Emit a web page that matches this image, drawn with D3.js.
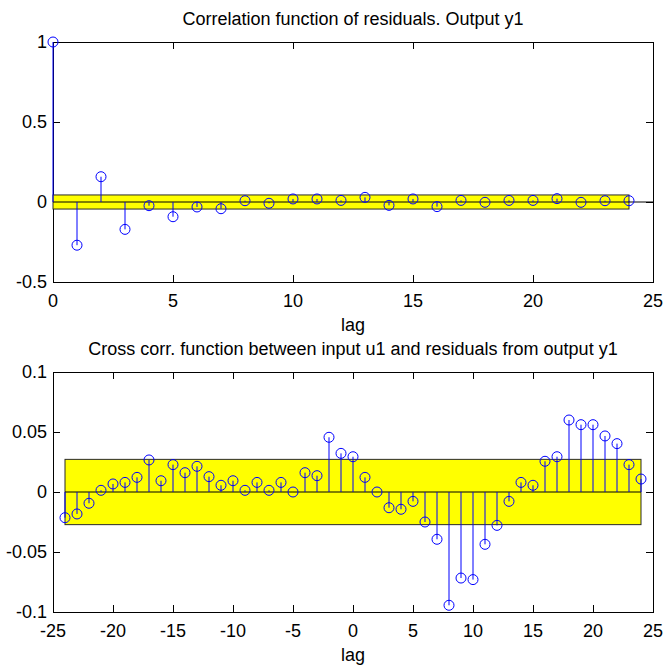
<!DOCTYPE html>
<html>
<head>
<meta charset="utf-8">
<script src="https://cdn.jsdelivr.net/npm/d3@7"></script>
<style>
  html, body { margin: 0; padding: 0; background: #ffffff; }
  svg { display: block; }
  text { font-family: "Liberation Sans", Arial, Helvetica, sans-serif; fill: #000; }
</style>
</head>
<body>
<svg id="chart" width="665" height="671"></svg>
<script>
// Autocorrelation of residuals, output y1 (lags 0..24)
const acfLags = [0, 1, 2, 3, 4, 5, 6, 7, 8, 9, 10, 11, 12, 13, 14, 15, 16, 17, 18, 19, 20, 21, 22, 23, 24];
const acfValues = [1.0, -0.27, 0.158, -0.171, -0.023, -0.092, -0.031, -0.042, 0.008, -0.008,
                   0.019, 0.019, 0.010, 0.029, -0.021, 0.019, -0.029, 0.010, -0.002, 0.010,
                   0.010, 0.021, -0.002, 0.008, 0.008];
const acfConfidence = 0.044;
const acfXTicks = [0, 5, 10, 15, 20, 25];
const acfXTickLabels = ["0", "5", "10", "15", "20", "25"];
const acfYTicks = [-0.5, 0, 0.5, 1];
const acfYTickLabels = ["-0.5", "0", "0.5", "1"];

// Cross correlation between input u1 and residuals of y1 (lags -24..24)
const ccfLags = [-24, -23, -22, -21, -20, -19, -18, -17, -16, -15, -14, -13, -12, -11, -10, -9, -8, -7, -6, -5, -4, -3, -2, -1,
                 0, 1, 2, 3, 4, 5, 6, 7, 8, 9, 10, 11, 12, 13, 14, 15, 16, 17, 18, 19, 20, 21, 22, 23, 24];
const ccfValues = [-0.0214, -0.0183, -0.0094, 0.0014, 0.0067, 0.0080, 0.0122, 0.0267, 0.0094, 0.0228,
                   0.0161, 0.0214, 0.0128, 0.0056, 0.0094, 0.0014, 0.0080, 0.0014, 0.0080, 0.0000,
                   0.0161, 0.0136, 0.0456, 0.0322, 0.0294, 0.0122, 0.0000, -0.0131, -0.0144, -0.0078,
                   -0.0250, -0.0394, -0.0944, -0.0717, -0.0730, -0.0436, -0.0278, -0.0078, 0.0080, 0.0056,
                   0.0256, 0.0294, 0.0600, 0.0561, 0.0561, 0.0467, 0.0403, 0.0228, 0.0108];
const ccfConfidence = 0.0272;
const ccfXTicks = [-25, -20, -15, -10, -5, 0, 5, 10, 15, 20, 25];
const ccfXTickLabels = ["-25", "-20", "-15", "-10", "-5", "0", "5", "10", "15", "20", "25"];
const ccfYTicks = [-0.1, -0.05, 0, 0.05, 0.1];
const ccfYTickLabels = ["-0.1", "-0.05", "0", "0.05", "0.1"];

const svg = d3.select("#chart");
const FONT = 18;
const TICK = 7;
const STEM = "#0000ff";

function panel(opts) {
  const { left, top, width, height, xDomain, yDomain, lags, values, conf, bandFrom, bandTo,
          zeroFrom, zeroTo, xTicks, xLabels, yTicks, yLabels, title } = opts;
  const x = d3.scaleLinear().domain(xDomain).range([left, left + width]);
  const y = d3.scaleLinear().domain(yDomain).range([top + height, top]);
  const g = svg.append("g");

  // axes box
  g.append("rect")
    .attr("x", left).attr("y", top).attr("width", width).attr("height", height)
    .attr("fill", "none").attr("stroke", "#000").attr("stroke-width", 1)
    .attr("shape-rendering", "crispEdges");

  // inward ticks on all four sides
  const ticks = g.append("g").attr("stroke", "#000").attr("stroke-width", 1)
    .attr("shape-rendering", "crispEdges");
  xTicks.forEach(t => {
    ticks.append("line").attr("x1", x(t)).attr("x2", x(t)).attr("y1", top + height).attr("y2", top + height - TICK);
    ticks.append("line").attr("x1", x(t)).attr("x2", x(t)).attr("y1", top).attr("y2", top + TICK);
  });
  yTicks.forEach(t => {
    ticks.append("line").attr("x1", left).attr("x2", left + TICK).attr("y1", y(t)).attr("y2", y(t));
    ticks.append("line").attr("x1", left + width).attr("x2", left + width - TICK).attr("y1", y(t)).attr("y2", y(t));
  });

  // tick labels
  xTicks.forEach((t, i) => {
    g.append("text").attr("x", x(t)).attr("y", top + height + 24.5)
      .attr("text-anchor", "middle").attr("font-size", FONT).text(xLabels[i]);
  });
  yTicks.forEach((t, i) => {
    g.append("text").attr("x", left - 6).attr("y", y(t)).attr("dy", "0.35em")
      .attr("text-anchor", "end").attr("font-size", FONT).text(yLabels[i]);
  });

  // confidence band
  g.append("rect")
    .attr("x", x(bandFrom)).attr("y", y(conf))
    .attr("width", x(bandTo) - x(bandFrom)).attr("height", y(-conf) - y(conf))
    .attr("fill", "#ffff00").attr("stroke", "#2a2a2a").attr("stroke-width", 1);

  // zero line
  g.append("line")
    .attr("x1", x(zeroFrom)).attr("x2", x(zeroTo)).attr("y1", y(0)).attr("y2", y(0))
    .attr("stroke", "#000").attr("stroke-width", 1);

  // stems
  g.append("g").selectAll("line").data(lags).join("line")
    .attr("x1", (d) => x(d)).attr("x2", (d) => x(d))
    .attr("y1", y(0)).attr("y2", (d, i) => y(values[i]))
    .attr("stroke", STEM).attr("stroke-width", 1);

  // markers
  g.append("g").selectAll("circle").data(lags).join("circle")
    .attr("cx", (d) => x(d)).attr("cy", (d, i) => y(values[i])).attr("r", 5)
    .attr("fill", "none").attr("stroke", STEM).attr("stroke-width", 1);

  // title and axis label
  g.append("text").attr("x", left + width / 2).attr("y", top - 17)
    .attr("text-anchor", "middle").attr("font-size", FONT).text(title);
  g.append("text").attr("x", left + width / 2).attr("y", top + height + 49)
    .attr("text-anchor", "middle").attr("font-size", FONT).text("lag");
}

panel({
  left: 53, top: 42, width: 600, height: 240,
  xDomain: [0, 25], yDomain: [-0.5, 1],
  lags: acfLags, values: acfValues, conf: acfConfidence,
  bandFrom: 0, bandTo: 24, zeroFrom: 0, zeroTo: 25,
  xTicks: acfXTicks, xLabels: acfXTickLabels, yTicks: acfYTicks, yLabels: acfYTickLabels,
  title: "Correlation function of residuals. Output y1"
});

panel({
  left: 53, top: 372, width: 600, height: 240,
  xDomain: [-25, 25], yDomain: [-0.1, 0.1],
  lags: ccfLags, values: ccfValues, conf: ccfConfidence,
  bandFrom: -24, bandTo: 24, zeroFrom: -24, zeroTo: 24,
  xTicks: ccfXTicks, xLabels: ccfXTickLabels, yTicks: ccfYTicks, yLabels: ccfYTickLabels,
  title: "Cross corr. function between input u1 and residuals from output y1"
});
</script>
</body>
</html>
